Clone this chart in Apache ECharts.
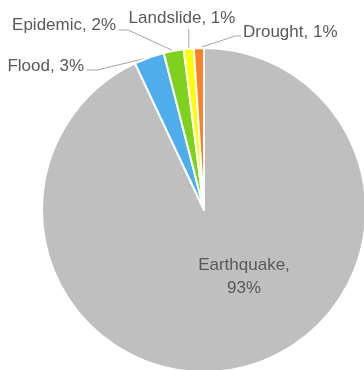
<!DOCTYPE html>
<html>
<head>
<meta charset="utf-8">
<script src="https://cdn.jsdelivr.net/npm/echarts@6/dist/echarts.min.js"></script>
<style>
  html, body { margin: 0; padding: 0; background: #fff; }
  #chart { width: 364px; height: 370px; }
</style>
</head>
<body>
<div id="chart"></div>
<script>
// Disaster types and their share of events (percent)
const categories = ['Earthquake', 'Flood', 'Epidemic', 'Landslide', 'Drought'];
const shares = [93, 3, 2, 1, 1];
const colors = ['#BFBFBF', '#4EADEB', '#7ED11C', '#FFFF00', '#FF8028'];

// Where each data label sits (text anchor) and how its leader line bends
const labelSpots = {
  Earthquake: { x: 244, y: 277, align: 'center' },
  Flood:      { x: 84,  y: 66,  align: 'right',  bend: [[13, 4], [3, 4]] },
  Epidemic:   { x: 116, y: 25,  align: 'right',  bend: [[12, 5], [2, 5]] },
  Landslide:  { x: 182, y: 18,  align: 'center', bend: null },
  Drought:    { x: 243, y: 32,  align: 'left',   bend: [[-8, 4], [-2, 4]] }
};

const chart = echarts.init(document.getElementById('chart'), null, { renderer: 'canvas' });

const data = categories.map((name, i) => ({
  name: name,
  value: shares[i],
  itemStyle: { color: colors[i] },
  label: name === 'Earthquake'
    ? { position: 'inside', formatter: '{b},\n{c}%' }
    : { position: 'outside', formatter: '{b}, {c}%' },
  labelLine: { show: name !== 'Earthquake' }
}));

chart.setOption({
  animation: false,
  backgroundColor: '#ffffff',
  series: [{
    type: 'pie',
    center: [204, 210],
    radius: 162,
    startAngle: 90,
    clockwise: true,
    avoidLabelOverlap: false,
    itemStyle: { borderColor: '#ffffff', borderWidth: 2 },
    label: {
      fontFamily: 'Liberation Sans',
      fontSize: 17,
      lineHeight: 23,
      color: '#595959'
    },
    labelLine: {
      length: 10,
      length2: 10,
      lineStyle: { color: '#A6A6A6', width: 1 }
    },
    emphasis: { disabled: true },
    labelLayout: function (params) {
      const name = categories[params.dataIndex];
      const spot = labelSpots[name];
      const out = { x: spot.x, y: spot.y, align: spot.align, verticalAlign: 'middle' };
      const pts = params.labelLinePoints;
      if (pts && name !== 'Earthquake') {
        const edge = pts[0];
        if (name === 'Landslide') {
          out.labelLinePoints = [edge, [edge[0], spot.y + 11], [edge[0], spot.y + 11]];
        } else {
          const b = spot.bend;
          out.labelLinePoints = [
            edge,
            [spot.x + b[0][0], spot.y + b[0][1]],
            [spot.x + b[1][0], spot.y + b[1][1]]
          ];
        }
      }
      return out;
    },
    data: data
  }]
});
</script>
</body>
</html>
